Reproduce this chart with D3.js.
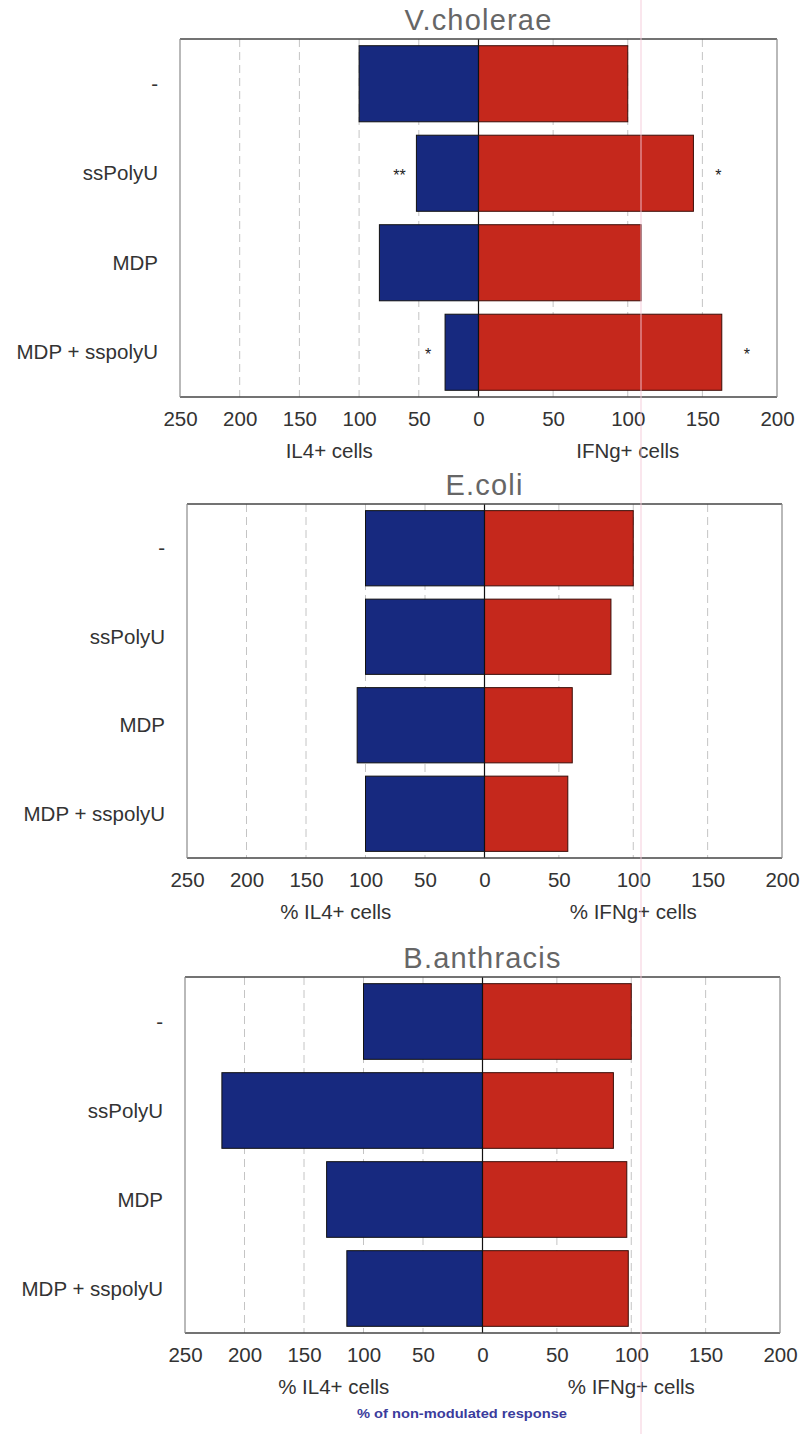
<!DOCTYPE html>
<html>
<head>
<meta charset="utf-8">
<script src="https://cdn.jsdelivr.net/npm/d3@7"></script>
<style>
  html, body { margin: 0; padding: 0; background: #fff; }
  svg { display: block; }
  text { font-family: "Liberation Sans", Arial, Helvetica, sans-serif; }
</style>
</head>
<body>
<svg id="chart" width="801" height="1434"></svg>
<script>
// Treatments shown on every panel (top to bottom)
const categories = ["-", "ssPolyU", "MDP", "MDP + sspolyU"];

// Panel titles (pathogen)
const panelTitles = ["V.cholerae", "E.coli", "B.anthracis"];

// IL4+ (left, blue) and IFNg+ (right, red) responses, % of non-modulated response
const il4Vcholerae   = [100, 52, 83, 28];
const ifngVcholerae  = [100, 144, 109, 163];
const il4Ecoli       = [100, 100, 107, 100];
const ifngEcoli      = [100, 85, 59, 56];
const il4Banthracis  = [100, 219, 131, 114];
const ifngBanthracis = [100, 88, 97, 98];

// Axis ticks: left half runs 250 → 0, right half 0 → 200
const leftTicks  = [250, 200, 150, 100, 50, 0];
const rightTicks = [50, 100, 150, 200];
const leftGrid   = [200, 150, 100, 50];
const rightGrid  = [50, 100, 150];

// Axis titles per panel
const leftAxisTitles  = ["IL4+ cells", "% IL4+ cells", "% IL4+ cells"];
const rightAxisTitles = ["IFNg+ cells", "% IFNg+ cells", "% IFNg+ cells"];

// Significance marks: panel index, treatment, side, symbol
const sigPanel    = [0, 0, 0, 0];
const sigCategory = ["ssPolyU", "ssPolyU", "MDP + sspolyU", "MDP + sspolyU"];
const sigSide     = ["left", "right", "left", "right"];
const sigSymbol   = ["**", "*", "*", "*"];

const footnote = "% of non-modulated response";

const il4Series  = [il4Vcholerae, il4Ecoli, il4Banthracis];
const ifngSeries = [ifngVcholerae, ifngEcoli, ifngBanthracis];

// Plot frames for the three stacked panels
const frames = [
  { left: 180, right: 777, top: 39,  bottom: 397 },
  { left: 187, right: 782, top: 504, bottom: 858 },
  { left: 185, right: 780, top: 977, bottom: 1333 }
];

const BLUE = "#17297f";
const RED = "#c5281c";
const TEXT = "#333";

const svg = d3.select("#chart");

frames.forEach((f, p) => {
  const mid = (f.left + f.right) / 2;
  const xL = d3.scaleLinear().domain([250, 0]).range([f.left, mid]);
  const xR = d3.scaleLinear().domain([0, 200]).range([mid, f.right]);
  const y = d3.scaleBand().domain(categories)
    .range([f.top, f.bottom]).paddingInner(0.15).paddingOuter(0.075);

  const g = svg.append("g");

  // title
  g.append("text")
    .attr("x", mid).attr("y", f.top - 9)
    .attr("text-anchor", "middle")
    .attr("font-size", 29).attr("letter-spacing", 1.2)
    .attr("fill", "#666")
    .text(panelTitles[p]);

  // dashed grid lines
  g.selectAll(".gl").data(leftGrid).join("line")
    .attr("x1", d => xL(d)).attr("x2", d => xL(d))
    .attr("y1", f.top).attr("y2", f.bottom)
    .attr("stroke", "#c4c4c4").attr("stroke-width", 1).attr("stroke-dasharray", "8,5");
  g.selectAll(".gr").data(rightGrid).join("line")
    .attr("x1", d => xR(d)).attr("x2", d => xR(d))
    .attr("y1", f.top).attr("y2", f.bottom)
    .attr("stroke", "#c4c4c4").attr("stroke-width", 1).attr("stroke-dasharray", "8,5");

  // IL4 bars (leftward)
  g.selectAll(".il4").data(il4Series[p]).join("rect")
    .attr("x", d => xL(d)).attr("width", d => xL(0) - xL(d))
    .attr("y", (d, i) => y(categories[i])).attr("height", y.bandwidth())
    .attr("fill", BLUE).attr("stroke", "#111").attr("stroke-width", 1);

  // IFNg bars (rightward)
  g.selectAll(".ifng").data(ifngSeries[p]).join("rect")
    .attr("x", xR(0)).attr("width", d => xR(d) - xR(0))
    .attr("y", (d, i) => y(categories[i])).attr("height", y.bandwidth())
    .attr("fill", RED).attr("stroke", "#3a0d08").attr("stroke-width", 1);

  // zero line
  g.append("line")
    .attr("x1", mid).attr("x2", mid).attr("y1", f.top).attr("y2", f.bottom)
    .attr("stroke", "#111").attr("stroke-width", 1.2);

  // frame: dark top/bottom, grey sides
  g.append("line").attr("x1", f.left).attr("x2", f.right).attr("y1", f.top).attr("y2", f.top)
    .attr("stroke", "#444").attr("stroke-width", 1.6);
  g.append("line").attr("x1", f.left).attr("x2", f.right).attr("y1", f.bottom).attr("y2", f.bottom)
    .attr("stroke", "#444").attr("stroke-width", 1.6);
  g.append("line").attr("x1", f.left).attr("x2", f.left).attr("y1", f.top).attr("y2", f.bottom)
    .attr("stroke", "#8a8a8a").attr("stroke-width", 1.2);
  g.append("line").attr("x1", f.right).attr("x2", f.right).attr("y1", f.top).attr("y2", f.bottom)
    .attr("stroke", "#8a8a8a").attr("stroke-width", 1.2);

  // category labels
  g.selectAll(".cat").data(categories).join("text")
    .attr("x", f.left - 22).attr("y", d => y(d) + y.bandwidth() / 2)
    .attr("dy", "0.35em").attr("text-anchor", "end")
    .attr("font-size", 20.5).attr("fill", TEXT)
    .text(d => d);

  // bottom axes
  const axL = d3.axisBottom(xL).tickValues(leftTicks).tickSize(0).tickPadding(14).tickFormat(d3.format("d"));
  const axR = d3.axisBottom(xR).tickValues(rightTicks).tickSize(0).tickPadding(14).tickFormat(d3.format("d"));
  [axL, axR].forEach(ax => {
    const a = g.append("g").attr("transform", `translate(0,${f.bottom})`).call(ax);
    a.select(".domain").remove();
    a.selectAll("text").attr("font-size", 20.5).attr("fill", TEXT)
      .attr("font-family", "'Liberation Sans', Arial, sans-serif");
  });

  // axis titles
  g.append("text").attr("x", (f.left + mid) / 2).attr("y", f.bottom + 61)
    .attr("text-anchor", "middle").attr("font-size", 20.5).attr("fill", TEXT)
    .text(leftAxisTitles[p]);
  g.append("text").attr("x", (mid + f.right) / 2).attr("y", f.bottom + 61)
    .attr("text-anchor", "middle").attr("font-size", 20.5).attr("fill", TEXT)
    .text(rightAxisTitles[p]);

  // significance marks
  sigPanel.forEach((sp, k) => {
    if (sp !== p) return;
    const i = categories.indexOf(sigCategory[k]);
    const left = sigSide[k] === "left";
    const xe = left ? xL(il4Series[p][i]) - 17 : xR(ifngSeries[p][i]) + 25;
    g.append("text")
      .attr("x", xe).attr("y", y(sigCategory[k]) + y.bandwidth() / 2 + 8)
      .attr("text-anchor", "middle").attr("font-size", 16)
      .attr("fill", "#222")
      .text(sigSymbol[k]);
  });
});

// footnote
svg.append("text")
  .attr("x", 462).attr("y", 1418)
  .attr("text-anchor", "middle").attr("font-size", 13).attr("font-weight", "bold")
  .attr("textLength", 210).attr("lengthAdjust", "spacingAndGlyphs")
  .attr("fill", "#3b3c9c")
  .text(footnote);

// faint pink vertical line running down the page
svg.append("line")
  .attr("x1", 641).attr("x2", 641).attr("y1", 0).attr("y2", 1434)
  .attr("stroke", "#f4c8d8").attr("stroke-width", 1.5).attr("opacity", 0.6);
</script>
</body>
</html>
